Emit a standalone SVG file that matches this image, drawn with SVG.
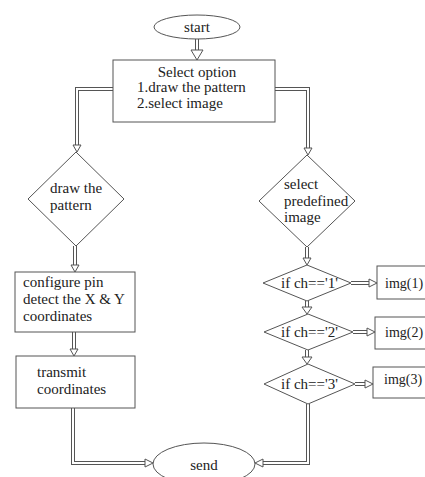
<svg xmlns="http://www.w3.org/2000/svg" width="425" height="477" viewBox="0 0 425 477">
<style>
.shape{fill:#fff;stroke:#555;stroke-width:1}
.t{font-family:"Liberation Serif","Times New Roman",serif;font-size:15px;fill:#222}
.ti{font-family:"Liberation Serif","Times New Roman",serif;font-size:14px;fill:#222}
.po{fill:none;stroke:#555;stroke-width:4;stroke-linejoin:miter}
.pi{fill:none;stroke:#fff;stroke-width:2;stroke-linejoin:miter}
.hd{fill:#fff;stroke:#555;stroke-width:1}
</style>
<rect width="425" height="477" fill="#fff"/>
<g id="connectors">
  <path class="po" d="M197 39V50" stroke-width="7"/>
  <path class="pi" d="M197 39V50" stroke-width="5"/>
  <polygon class="hd" points="191,50 203,50 197,60"/>
  <path class="po" d="M113 89H77V145"/>
  <path class="pi" d="M113 89H77V145"/>
  <polygon class="hd" points="73,145 81,145 77,152"/>
  <path class="po" d="M275 89H308V148"/>
  <path class="pi" d="M275 89H308V148"/>
  <polygon class="hd" points="304,148 312,148 308,155"/>
  <path class="po" d="M75 246V265"/>
  <path class="pi" d="M75 246V265"/>
  <polygon class="hd" points="71,265 79,265 75,272"/>
  <path class="po" d="M74 332V349"/>
  <path class="pi" d="M74 332V349"/>
  <polygon class="hd" points="70,349 78,349 74,356"/>
  <path class="po" d="M73 408V463H145"/>
  <path class="pi" d="M73 408V463H145"/>
  <polygon class="hd" points="145,459 145,467 153,463"/>
  <path class="po" d="M307 247V258"/>
  <path class="pi" d="M307 247V258"/>
  <polygon class="hd" points="303,258 311,258 307,265"/>
  <path class="po" d="M351 283H369"/>
  <path class="pi" d="M351 283H369"/>
  <polygon class="hd" points="369,279 369,287 377,283"/>
  <path class="po" d="M307 301V307"/>
  <path class="pi" d="M307 301V307"/>
  <polygon class="hd" points="302,307 312,307 307,314"/>
  <path class="po" d="M353 332H367"/>
  <path class="pi" d="M353 332H367"/>
  <polygon class="hd" points="367,328 367,336 375,332"/>
  <path class="po" d="M307 350V357"/>
  <path class="pi" d="M307 350V357"/>
  <polygon class="hd" points="302,357 312,357 307,364"/>
  <path class="po" d="M355 384H365"/>
  <path class="pi" d="M355 384H365"/>
  <polygon class="hd" points="365,380 365,388 373,384"/>
  <path class="po" d="M308 404V463H263"/>
  <path class="pi" d="M308 404V463H263"/>
  <polygon class="hd" points="263,459 263,467 255,463"/>
</g>
<g id="start">
  <ellipse class="shape" cx="197" cy="27" rx="43" ry="12"/>
  <text class="t" x="197" y="32" text-anchor="middle">start</text>
</g>
<g id="select-option">
  <rect class="shape" x="113" y="60" width="162" height="62"/>
  <text class="t" x="197" y="77" text-anchor="middle">Select option</text>
  <text class="t" x="137" y="92">1.draw the pattern</text>
  <text class="t" x="137" y="108">2.select image</text>
</g>
<g id="draw-pattern">
  <polygon class="shape" points="76,152 124,199 76,246 28,199"/>
  <text class="t" x="50" y="193">draw the</text>
  <text class="t" x="50" y="210">pattern</text>
</g>
<g id="configure">
  <rect class="shape" x="15" y="272" width="120" height="60"/>
  <text class="t" x="23" y="287">configure pin</text>
  <text class="t" x="23" y="304">detect the X &amp; Y</text>
  <text class="t" x="23" y="321">coordinates</text>
</g>
<g id="transmit">
  <rect class="shape" x="16" y="356" width="119" height="52"/>
  <text class="t" x="37" y="377">transmit</text>
  <text class="t" x="37" y="394">coordinates</text>
</g>
<g id="select-predefined">
  <polygon class="shape" points="307,155 355,201 307,247 259,201"/>
  <text class="t" x="284" y="189">select</text>
  <text class="t" x="284" y="206">predefined</text>
  <text class="t" x="284" y="222">image</text>
</g>
<g id="if1">
  <polygon class="shape" points="307,265 351,283 307,301 263,283"/>
  <text class="t" x="281" y="288">if ch=='1'</text>
</g>
<g id="img1">
  <rect class="shape" x="377" y="266" width="60" height="33"/>
  <text class="ti" x="385" y="288">img(1)</text>
</g>
<g id="if2">
  <polygon class="shape" points="308,314 353,332 308,350 264,332"/>
  <text class="t" x="281" y="337">if ch=='2'</text>
</g>
<g id="img2">
  <rect class="shape" x="375" y="317" width="60" height="32"/>
  <text class="ti" x="385" y="337">img(2)</text>
</g>
<g id="if3">
  <polygon class="shape" points="308,364 355,384 308,404 264,384"/>
  <text class="t" x="281" y="389">if ch=='3'</text>
</g>
<g id="img3">
  <rect class="shape" x="373" y="367" width="60" height="31"/>
  <text class="ti" x="384" y="384">img(3)</text>
</g>
<g id="send">
  <ellipse class="shape" cx="204" cy="464" rx="51" ry="21"/>
  <text class="t" x="204" y="470" text-anchor="middle">send</text>
</g>
</svg>
